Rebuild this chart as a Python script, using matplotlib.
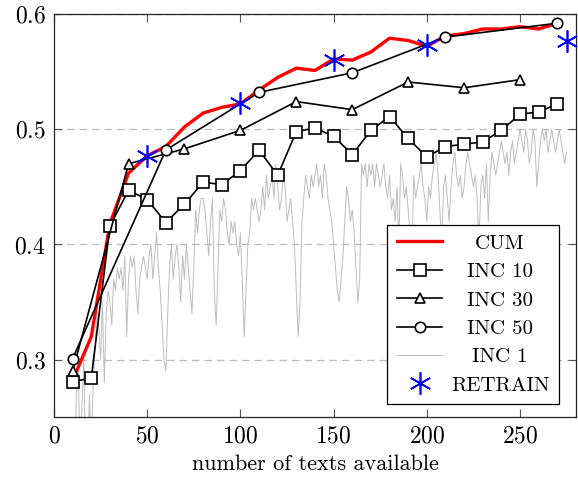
import numpy as np
import matplotlib
matplotlib.use("Agg")
import matplotlib.pyplot as plt

plt.rcParams['font.family'] = 'serif'
plt.rcParams['font.serif'] = ['cmr10']
plt.rcParams['axes.formatter.use_mathtext'] = True
plt.rcParams['mathtext.fontset'] = 'cm'

# cumulative retraining
cum_x = [10, 20, 30, 40, 50, 60, 70, 80, 90, 100, 110, 120, 130, 140, 150, 160, 170, 180,
         190, 200, 210, 220, 230, 240, 250, 260, 270]
cum_y = [0.282, 0.320, 0.418, 0.462, 0.477, 0.485, 0.502, 0.514, 0.519, 0.522, 0.534, 0.545,
         0.553, 0.551, 0.561, 0.560, 0.567, 0.579, 0.577, 0.572, 0.581, 0.583, 0.587, 0.587,
         0.589, 0.587, 0.592]

# incremental, step 10
inc10_x = [10, 20, 30, 40, 50, 60, 70, 80, 90, 100, 110, 120, 130, 140, 150, 160, 170, 180,
           190, 200, 210, 220, 230, 240, 250, 260, 270]
inc10_y = [0.281, 0.284, 0.416, 0.447, 0.439, 0.419, 0.435, 0.454, 0.452, 0.464, 0.482, 0.460,
           0.498, 0.501, 0.494, 0.478, 0.499, 0.511, 0.492, 0.476, 0.485, 0.487, 0.489, 0.499,
           0.513, 0.515, 0.522]

# incremental, step 30
inc30_x = [10, 40, 70, 100, 130, 160, 190, 220, 250]
inc30_y = [0.290, 0.470, 0.483, 0.499, 0.524, 0.517, 0.541, 0.536, 0.543]

# incremental, step 50
inc50_x = [10, 60, 110, 160, 210, 270]
inc50_y = [0.301, 0.482, 0.532, 0.549, 0.580, 0.592]

# incremental, step 1 (starts at 10 texts)
inc1_y = [
    0.24, 0.20, 0.27, 0.29, 0.22, 0.26, 0.30, 0.21, 0.19, 0.27,
    0.22, 0.28, 0.31, 0.34, 0.33, 0.30, 0.35, 0.28, 0.34, 0.36,
    0.35, 0.33, 0.37, 0.36, 0.38, 0.37, 0.38, 0.36, 0.39, 0.32,
    0.37, 0.39, 0.38, 0.39, 0.36, 0.34, 0.37, 0.38, 0.39, 0.38,
    0.37, 0.39, 0.40, 0.37, 0.39, 0.41, 0.38, 0.36, 0.33, 0.30,
    0.29, 0.34, 0.38, 0.40, 0.37, 0.39, 0.40, 0.38, 0.35, 0.39,
    0.37, 0.40, 0.38, 0.36, 0.34, 0.38, 0.43, 0.41, 0.43, 0.44,
    0.44, 0.43, 0.41, 0.39, 0.42, 0.44, 0.36, 0.33, 0.38, 0.43,
    0.42, 0.44, 0.43, 0.41, 0.40, 0.42, 0.41, 0.42, 0.40, 0.39,
    0.41, 0.37, 0.32, 0.36, 0.40, 0.41, 0.44, 0.43, 0.44, 0.43,
    0.42, 0.43, 0.45, 0.43, 0.46, 0.44, 0.45, 0.46, 0.44, 0.47,
    0.45, 0.43, 0.44, 0.46, 0.45, 0.42, 0.43, 0.44, 0.42, 0.40,
    0.36, 0.32, 0.35, 0.42, 0.44, 0.46, 0.45, 0.44, 0.46, 0.45,
    0.46, 0.47, 0.45, 0.46, 0.44, 0.47, 0.46, 0.44, 0.43, 0.42,
    0.40, 0.38, 0.36, 0.35, 0.37, 0.39, 0.42, 0.45, 0.44, 0.42,
    0.43, 0.41, 0.38, 0.35, 0.37, 0.47, 0.46, 0.47, 0.45, 0.47,
    0.46, 0.47, 0.45, 0.47, 0.46, 0.45, 0.46, 0.47, 0.45, 0.44,
    0.46, 0.43, 0.44, 0.42, 0.45, 0.40, 0.47, 0.46, 0.44, 0.45,
    0.43, 0.41, 0.39, 0.46, 0.44, 0.45, 0.46, 0.47, 0.45, 0.44,
    0.42, 0.45, 0.44, 0.46, 0.47, 0.48, 0.46, 0.43, 0.40, 0.45,
    0.46, 0.44, 0.42, 0.45, 0.47, 0.48, 0.46, 0.45, 0.46, 0.44,
    0.45, 0.47, 0.48, 0.47, 0.46, 0.45, 0.46, 0.44, 0.40, 0.45,
    0.46, 0.44, 0.47, 0.42, 0.46, 0.48, 0.47, 0.46, 0.47, 0.48,
    0.49, 0.48, 0.47, 0.48, 0.46, 0.48, 0.49, 0.47, 0.48, 0.49,
    0.50, 0.49, 0.48, 0.50, 0.49, 0.47, 0.48, 0.50, 0.49, 0.45,
    0.47, 0.49, 0.50, 0.49, 0.50, 0.48, 0.49, 0.50, 0.49, 0.48,
    0.49, 0.50, 0.49, 0.48, 0.47, 0.48,
]
inc1_x = np.arange(10, 10 + len(inc1_y))

# retrain points
retrain_x = [50, 100, 150, 200, 275]
retrain_y = [0.477, 0.523, 0.560, 0.573, 0.577]

xticks = [0, 50, 100, 150, 200, 250]
yticks = [0.3, 0.4, 0.5, 0.6]

fig = plt.figure(figsize=(5.78, 4.83), dpi=100)
ax = fig.add_axes([0.0934, 0.136, 0.903, 0.835])

ax.plot(cum_x, cum_y, color='red', lw=2.4, label='CUM', zorder=3)
mk = dict(color='black', lw=1.2, mfc='white', mec='black', mew=1.2)
ax.plot(inc10_x, inc10_y, marker='s', ms=8, label='INC 10', zorder=4, **mk)
ax.plot(inc30_x, inc30_y, marker='^', ms=6.5, label='INC 30', zorder=4, **mk)
ax.plot(inc50_x, inc50_y, marker='o', ms=7.5, label='INC 50', zorder=4, **mk)
ax.plot(inc1_x, inc1_y, color='#bdbdbd', lw=0.7, label='INC 1', zorder=2)
ax.plot(retrain_x, retrain_y, ls='none', marker=(6, 2, 0), ms=16, mew=1.2,
        color='blue', label='RETRAIN', zorder=5, clip_on=False)

ax.set_xlim(0, 280)
ax.set_ylim(0.25, 0.6)
ax.set_xticks(xticks)
ax.set_yticks(yticks)
ax.yaxis.grid(True, ls=(0, (6, 4)), color='#bbbbbb', lw=0.9)
ax.set_axisbelow(True)
ax.tick_params(direction='in', length=6, width=0.8, color='#555555',
               top=True, right=True, labelsize=17, pad=6)
for s in ax.spines.values():
    s.set_linewidth(0.9)
    s.set_color('#222222')
ax.set_xlabel('number of texts available', fontsize=16, labelpad=5)

leg = ax.legend(loc='lower right', bbox_to_anchor=(0.967, 0.033), borderaxespad=0,
                fontsize=15, fancybox=False, framealpha=1, edgecolor='black',
                handlelength=2.2, labelspacing=0.47, borderpad=0.45, handletextpad=0.4)
leg.get_frame().set_linewidth(0.9)

# centre the labels inside the legend column like pgfplots
fig.canvas.draw()
r = fig.canvas.get_renderer()
widths = [t.get_window_extent(r).width for t in leg.get_texts()]
mw = max(widths)
for t, w in zip(leg.get_texts(), widths):
    t.set_x((mw - w) / 2)

fig.savefig('out.png', dpi=100)
